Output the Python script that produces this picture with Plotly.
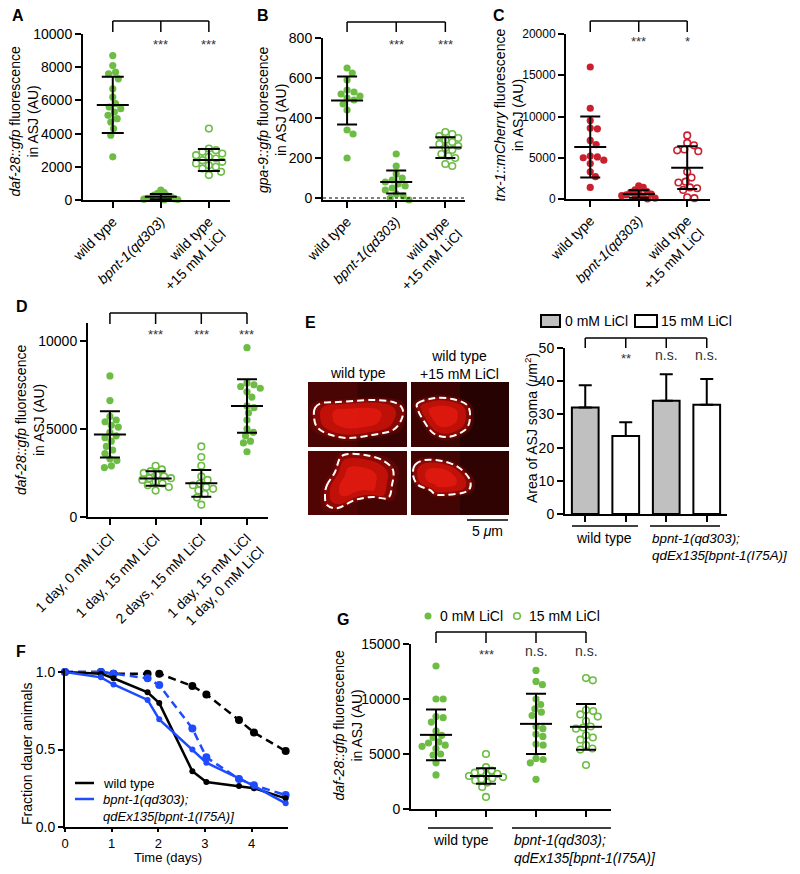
import numpy as np
import plotly.graph_objects as go

# The page body has an 8px default margin; the figure is sized so page == window.
OFF = 8
W, H = 800 - 2 * OFF, 874 - 2 * OFF
FONT = "Liberation Sans, Arial, Helvetica, sans-serif"
GREEN = "#6dbd45"
RED = "#c9202f"
BLUE = "#1f4bff"
BARGRAY = "#c0c0c0"

# ---------------- data ----------------
# Panel A: daf-28::gfp fluorescence
A_labels = ["wild type", "<i>bpnt-1(qd303)</i>", "wild type<br>+15 mM LiCl"]
A_wt = [8700, 8100, 7700, 7600, 7300, 6700, 6200, 5800, 5600, 5500, 5300, 5100, 4900, 4700, 4300, 3900, 2600]
A_bpnt = [600, 450, 400, 300, 250, 200, 150, 120, 100, 80, 50, 30, 0]
A_li = [4300, 3100, 3000, 2900, 2800, 2700, 2600, 2500, 2400, 2300, 2200, 2100, 2000, 1900, 1700, 1500]
A_mean = [5730, 200, 2410]
A_sd = [1690, 160, 660]
A_sig = ["", "***", "***"]

# Panel B: gpa-9::gfp fluorescence
B_labels = A_labels
B_wt = [650, 625, 590, 540, 530, 520, 510, 500, 490, 470, 440, 340, 320, 200]
B_bpnt = [220, 160, 120, 100, 90, 80, 70, 60, 50, 40, 20, 10, 0, -10]
B_li = [330, 320, 310, 300, 290, 280, 270, 260, 250, 240, 220, 210, 200, 170, 160]
B_mean = [487, 80, 252]
B_sd = [120, 58, 52]
B_sig = ["", "***", "***"]

# Panel C: trx-1::mCherry fluorescence
C_labels = A_labels
C_wt = [16000, 11000, 9500, 8600, 8500, 7100, 6600, 5200, 5100, 5000, 4700, 4300, 3300, 2700, 1400]
C_bpnt = [1600, 1400, 1100, 900, 800, 700, 600, 500, 400, 300, 200, 100, 0]
C_li = [7700, 6800, 6500, 6000, 5900, 5800, 3300, 2600, 2100, 2000, 1400, 1300, 1100, 200, 100]
C_mean = [6300, 600, 3800]
C_sd = [3700, 450, 2600]
C_sig = ["", "***", "*"]

# Panel D: daf-28::gfp, LiCl time course
D_labels = ["1 day, 0 mM LiCl", "1 day, 15 mM LiCl", "2 days, 15 mM LiCl",
            "1 day, 15 mM LiCl<br>1 day, 0 mM LiCl"]
D_g1 = [8000, 6600, 5700, 5500, 5400, 5200, 5100, 4800, 4600, 4500, 4300, 4000, 3800, 3600, 3300, 3200, 2900, 2800]
D_g2 = [2900, 2700, 2600, 2500, 2400, 2300, 2200, 2200, 2100, 2000, 1900, 1800, 1700, 1500]
D_g3 = [4000, 3400, 2900, 2300, 2100, 1900, 1800, 1700, 1600, 1500, 1300, 1100, 700]
D_g4 = [9600, 7600, 7500, 7400, 7300, 7100, 6800, 6300, 6200, 5900, 5500, 5000, 4800, 4600, 4300, 4200, 3700]
D_mean = [4680, 2180, 1910, 6290]
D_sd = [1310, 410, 760, 1520]
D_sig = ["", "***", "***", "***"]

# Panel E: area of ASJ soma
E_mean = [32.1, 23.5, 34.1, 32.9]
E_sd = [6.7, 4.1, 8.0, 7.8]
E_sig = ["", "**", "n.s.", "n.s."]
E_legend = ["0 mM LiCl", "15 mM LiCl"]
E_groups = ["wild type", "<i>bpnt-1(qd303);<br>qdEx135[bpnt-1(I75A)]</i>"]

# Panel F: fraction dauer animals over time
F_time = [0, 0.77, 1.04, 1.77, 2.02, 2.73, 3.03, 3.73, 4.05, 4.73]
F_wt_0 = [1.0, 0.99, 0.96, 0.87, 0.80, 0.36, 0.29, 0.265, 0.25, 0.185]
F_wt_15 = [1.0, 1.0, 0.99, 0.99, 0.99, 0.91, 0.856, 0.69, 0.61, 0.49]
F_bp_0 = [1.0, 0.966, 0.92, 0.82, 0.695, 0.50, 0.415, 0.314, 0.265, 0.153]
F_bp_15 = [1.0, 1.0, 0.99, 0.96, 0.916, 0.636, 0.45, 0.31, 0.27, 0.206]
F_legend = ["wild type", "<i>bpnt-1(qd303);<br>qdEx135[bpnt-1(I75A)]</i>"]

# Panel G: daf-28::gfp in rescue line
G_wt0 = [13000, 10000, 10000, 8400, 8300, 7900, 7100, 6700, 6500, 6100, 6000, 5800, 5700, 5500, 5000, 4900, 4200, 3100]
G_wt15 = [5000, 3800, 3500, 3400, 3300, 3200, 3100, 3000, 2900, 2800, 2700, 2600, 2400, 2000, 1100]
G_bp0 = [12600, 11600, 11300, 10000, 9500, 9100, 8800, 8500, 7500, 7300, 6800, 6600, 5900, 5800, 4600, 4500, 4200, 2700]
G_bp15 = [11900, 11700, 9000, 8900, 8600, 8400, 8000, 7500, 7400, 7300, 6700, 6500, 6300, 5800, 5500, 5400, 4000]
G_mean = [6740, 3000, 7740, 7470]
G_sd = [2310, 710, 2735, 2080]
G_sig = ["", "***", "n.s.", "n.s."]

# ---------------- layout geometry (window pixels) ----------------
P = {
    "A": dict(s="", x0=83, x1=230, yb=200, yt=34, xr=[-0.62, 2.44], yr=[0, 10000], dt=2000),
    "B": dict(s="2", x0=323, x1=465, yb=200, yt=38, xr=[-0.49, 2.4], yr=[-10, 800], dt=200),
    "C": dict(s="3", x0=566, x1=710, yb=199, yt=34, xr=[-0.5, 2.47], yr=[0, 20000], dt=5000),
    "D": dict(s="4", x0=88, x1=268, yb=517, yt=323, xr=[-0.48, 3.46], yr=[0, 11000], dt=5000),
    "E": dict(s="5", x0=565, x1=727, yb=514, yt=348, xr=[-0.5, 3.5], yr=[0, 50], dt=10),
    "F": dict(s="6", x0=65, x1=288, yb=827, yt=669, xr=[0, 4.78], yr=[0, 1.02], dt=0.5),
    "G": dict(s="7", x0=411, x1=611, yb=809, yt=644, xr=[-0.5, 3.5], yr=[0, 15000], dt=5000),
}


def px(x):
    return (x - OFF) / W


def py(y):
    return 1 - (y - OFF) / H


def scales(c):
    xs = (c["x1"] - c["x0"]) / (c["xr"][1] - c["xr"][0])
    ys = (c["yb"] - c["yt"]) / (c["yr"][1] - c["yr"][0])
    return xs, ys


def swarm(vals, xs, ys, d=7.2, limit=17.0):
    vals = np.asarray(vals, float)
    order = np.argsort(-vals, kind="stable")
    placed = []
    out = np.zeros(len(vals))
    for i in order:
        y = vals[i] * ys
        cands = [0.0]
        for (qx, qy) in placed:
            dy = abs(qy - y)
            if dy < d:
                dx = np.sqrt(d * d - dy * dy)
                cands += [qx + dx, qx - dx]
        cands.sort(key=lambda c: (round(abs(c), 6), -c))
        chosen = 0.0
        for cnd in cands:
            if all((cnd - qx) ** 2 + (y - qy) ** 2 >= d * d - 1e-6 for qx, qy in placed):
                chosen = cnd
                break
        placed.append((chosen, y))
        out[i] = chosen
    m = np.abs(out).max()
    if m > limit:
        out = out * limit / m
    return out / xs


fig = go.Figure()
layout = dict(width=W, height=H, autosize=False,
              margin=dict(l=0, r=0, t=0, b=0, pad=0, autoexpand=False),
              paper_bgcolor="white", plot_bgcolor="white", showlegend=False,
              font=dict(family=FONT, size=14, color="black"))
shapes = []
annots = []

common = dict(showline=True, linewidth=2, linecolor="black", ticks="outside", ticklen=6,
              tickwidth=2, tickcolor="black", showgrid=False, zeroline=False, automargin=False,
              tickfont=dict(size=14, color="black", family=FONT), fixedrange=True)

for key, c in P.items():
    s = c["s"]
    layout["xaxis" + s] = dict(domain=[px(c["x0"]), px(c["x1"])], range=c["xr"], anchor="y" + s, **common)
    layout["yaxis" + s] = dict(domain=[py(c["yb"]), py(c["yt"])], range=c["yr"], anchor="x" + s,
                               dtick=c["dt"], tick0=0, tickformat="d", **common)

layout["yaxis3"]["tickfont"] = dict(size=12, color="black", family=FONT)
layout["yaxis6"]["tickformat"] = ".1f"
layout["xaxis6"]["ticklen"] = 3
layout["xaxis6"]["tickfont"] = dict(size=13, color="black", family=FONT)
layout["yaxis6"]["ticklen"] = 5


def text(x, y, t, size=14, xanchor="center", yanchor="middle", angle=0, color="black", align="center"):
    annots.append(dict(xref="paper", yref="paper", x=px(x), y=py(y), text=t, showarrow=False,
                       xanchor=xanchor, yanchor=yanchor, textangle=angle, align=align,
                       font=dict(size=size, color=color, family=FONT)))


def line(x0, y0, x1, y1, color="black", width=1.5, dash="solid"):
    shapes.append(dict(type="line", xref="paper", yref="paper", x0=px(x0), y0=py(y0),
                       x1=px(x1), y1=py(y1), line=dict(color=color, width=width, dash=dash)))


def bracket(key, cats, ytop, ybot, sig, ysig):
    c = P[key]
    xs, _ = scales(c)
    xpos = [c["x0"] + (k - c["xr"][0]) * xs for k in cats]
    line(xpos[0], ytop, xpos[-1], ytop)
    for xp, sg in zip(xpos, sig):
        line(xp, ytop, xp, ybot)
        if sg:
            if "*" in sg:
                text(xp, ysig + 3, sg, size=13, color="#333333")
            else:
                text(xp, ysig, sg, size=14, color="#333333")


def dot_panel(key, groups, means, sds, labels, cap=10):
    c = P[key]
    s = c["s"]
    xs, ys = scales(c)
    for k, (vals, filled, col) in enumerate(groups):
        off = swarm(vals, xs, ys)
        mk = dict(size=7.2, color=col, line=dict(width=0)) if filled else \
            dict(size=6.6, color=col, symbol="circle-open", line=dict(width=1.6, color=col))
        fig.add_trace(go.Scatter(x=k + off, y=vals, mode="markers", marker=mk, cliponaxis=False,
                                 xaxis="x" + s, yaxis="y" + s, hoverinfo="skip"))
    cats = list(range(len(means)))
    hw = 16 / xs
    mx, my = [], []
    for k, m in zip(cats, means):
        mx += [k - hw, k + hw, None]
        my += [m, m, None]
    fig.add_trace(go.Scatter(x=mx, y=my, mode="lines", line=dict(color="black", width=2),
                             cliponaxis=False, xaxis="x" + s, yaxis="y" + s, hoverinfo="skip"))
    fig.add_trace(go.Scatter(x=cats, y=means, mode="markers", marker=dict(size=1, opacity=0),
                             error_y=dict(type="data", array=sds, color="black", thickness=2, width=cap),
                             cliponaxis=False, xaxis="x" + s, yaxis="y" + s, hoverinfo="skip"))
    ax = layout["xaxis" + s]
    ax["tickvals"] = cats
    if labels is not None:
        ax["ticktext"] = labels
        ax["tickangle"] = -45
    else:
        ax["showticklabels"] = False


# ---- Panel A ----
dot_panel("A", [(A_wt, True, GREEN), (A_bpnt, True, GREEN), (A_li, False, GREEN)], A_mean, A_sd, A_labels, cap=11)
bracket("A", [0, 1, 2], 21, 32, A_sig, 41)
text(23.5, 122, "<i>daf-28::gfp</i> fluorescence<br>in ASJ (AU)", angle=-90)
text(18, 15, "<b>A</b>", size=16)

# ---- Panel B ----
dot_panel("B", [(B_wt, True, GREEN), (B_bpnt, True, GREEN), (B_li, False, GREEN)], B_mean, B_sd, B_labels)
bracket("B", [0, 1, 2], 22, 32, B_sig, 41)
text(272, 120, "<i>gpa-9::gfp</i> fluorescence<br>in ASJ (AU)", angle=-90)
text(263, 15, "<b>B</b>", size=16)
shapes.append(dict(type="line", xref="x2 domain", yref="y2", x0=0, x1=1, y0=0, y1=0,
                   line=dict(color="black", width=1.2, dash="dot")))

# ---- Panel C ----
dot_panel("C", [(C_wt, True, RED), (C_bpnt, True, RED), (C_li, False, RED)], C_mean, C_sd, C_labels)
bracket("C", [0, 1, 2], 21, 32, C_sig, 39)
text(508.5, 115, "<i>trx-1::mCherry</i> fluorescence<br>in ASJ (AU)", angle=-90)
text(499, 15, "<b>C</b>", size=16)

# ---- Panel D ----
dot_panel("D", [(D_g1, True, GREEN), (D_g2, False, GREEN), (D_g3, False, GREEN), (D_g4, True, GREEN)],
          D_mean, D_sd, D_labels)
bracket("D", [0, 1, 2, 3], 313, 324, D_sig, 332)
text(30, 420, "<i>daf-28::gfp</i> fluorescence<br>in ASJ (AU)", angle=-90)
text(22, 306, "<b>D</b>", size=16)

# ---- Panel E (micrographs, decorative) ----
def smooth(pts):
    p = np.array(pts, float)
    n = len(p)
    d = "M %.5f,%.5f" % (px(p[0][0]), py(p[0][1]))
    for i in range(n):
        p0, p1, p2, p3 = p[i - 1], p[i], p[(i + 1) % n], p[(i + 2) % n]
        c1 = p1 + (p2 - p0) / 6
        c2 = p2 - (p3 - p1) / 6
        d += " C %.5f,%.5f %.5f,%.5f %.5f,%.5f" % (px(c1[0]), py(c1[1]), px(c2[0]), py(c2[1]),
                                                  px(p2[0]), py(p2[1]))
    return d + " Z"


def scaled(pts, f, box):
    p = np.array(pts, float)
    cen = p.mean(axis=0)
    q = cen + (p - cen) * f
    x0, y0, x1, y1 = box
    q[:, 0] = np.clip(q[:, 0], x0 + 2, x1 - 2)
    q[:, 1] = np.clip(q[:, 1], y0 + 2, y1 - 2)
    return q


images = [
    ((308, 382, 407, 447), "#380303",
     [(315, 408), (322, 403), (338, 402), (372, 400), (393, 402), (402, 408), (402, 418), (393, 430),
      (372, 435), (348, 438), (328, 434), (317, 427), (314, 417)]),
    ((411, 382, 509, 447), "#260202",
     [(418, 403), (435, 398), (452, 399), (467, 405), (470, 418), (465, 430), (448, 437), (433, 433),
      (422, 418), (418, 410)]),
    ((308, 451, 407, 515), "#440404",
     [(327, 485), (335, 472), (340, 458), (348, 454), (365, 455), (382, 460), (393, 470), (392, 485),
      (388, 498), (372, 497), (355, 500), (338, 508), (327, 505), (325, 495)]),
    ((411, 451, 509, 515), "#300303",
     [(415, 465), (425, 460), (442, 461), (458, 467), (469, 478), (470, 488), (462, 493), (438, 495),
      (430, 490), (418, 485), (413, 475)]),
]
for box, bg, outline in images:
    x0, y0, x1, y1 = box
    shapes.append(dict(type="rect", xref="paper", yref="paper", x0=px(x0), x1=px(x1), y0=py(y1), y1=py(y0),
                       fillcolor=bg, line=dict(width=0)))
    shapes.append(dict(type="rect", xref="paper", yref="paper", x0=px(x0), x1=px(x0 + (x1 - x0) * 0.5),
                       y0=py(y1), y1=py(y0), fillcolor="rgba(110,10,5,0.3)", line=dict(width=0)))
    for f, col in [(1.15, "rgba(120,8,4,0.45)"), (1.03, "rgba(170,12,6,0.6)"),
                   (0.85, "rgba(215,20,10,0.7)"), (0.55, "rgba(240,30,18,0.6)")]:
        shapes.append(dict(type="path", path=smooth(scaled(outline, f, box)), xref="paper", yref="paper",
                           fillcolor=col, line=dict(width=0)))
    shapes.append(dict(type="path", path=smooth(outline), xref="paper", yref="paper",
                       fillcolor="rgba(0,0,0,0)", line=dict(color="white", width=2, dash="7px,4px")))

text(358, 373, "wild type")
text(459, 364.5, "wild type<br>+15 mM LiCl")
line(467, 520, 508, 520, width=1.5)
text(487, 531, "5 <i>μ</i>m")
text(310, 323, "<b>E</b>", size=16)

# ---- Panel E bar chart ----
fig.add_trace(go.Bar(x=[0, 1, 2, 3], y=E_mean, width=0.66,
                     marker=dict(color=[BARGRAY, "white", BARGRAY, "white"], line=dict(color="black", width=2)),
                     error_y=dict(type="data", symmetric=False, array=E_sd, arrayminus=[0, 0, 0, 0],
                                  color="black", thickness=2, width=6.5),
                     xaxis="x5", yaxis="y5", hoverinfo="skip"))
layout["xaxis5"]["tickvals"] = [0, 1, 2, 3]
layout["xaxis5"]["showticklabels"] = False
bracket("E", [0, 1, 2, 3], 338, 348, E_sig, 355)
text(531, 428, "Area of ASJ soma (<i>μ</i>m<sup>2</sup>)", angle=-90)
# legend
shapes.append(dict(type="rect", xref="paper", yref="paper", x0=px(541), x1=px(560), y0=py(327), y1=py(315),
                   fillcolor=BARGRAY, line=dict(color="black", width=2)))
shapes.append(dict(type="rect", xref="paper", yref="paper", x0=px(635), x1=px(657), y0=py(327), y1=py(315),
                   fillcolor="white", line=dict(color="black", width=2)))
text(563, 321, E_legend[0], xanchor="left")
text(659, 321, E_legend[1], xanchor="left")
# group labels
line(572, 526, 638, 526)
line(650, 526, 720, 526)
text(604, 538, E_groups[0])
text(650, 547, E_groups[1], xanchor="left", align="left", size=13.4)

# ---- Panel F ----
for ys_, col, dash, msz in [(F_wt_15, "black", "8px,5px", 8), (F_bp_15, BLUE, "8px,5px", 8),
                            (F_wt_0, "black", "solid", 6), (F_bp_0, BLUE, "solid", 6)]:
    fig.add_trace(go.Scatter(x=F_time, y=ys_, mode="lines+markers",
                             line=dict(color=col, width=2.5, dash=dash),
                             marker=dict(color=col, size=msz), cliponaxis=False,
                             xaxis="x6", yaxis="y6", hoverinfo="skip"))
layout["xaxis6"]["tickvals"] = [0, 1, 2, 3, 4]
layout["yaxis6"]["tickvals"] = [0, 0.5, 1.0]
text(168, 857, "Time (days)", size=13)
text(27, 754, "Fraction dauer animals", angle=-90)
text(21, 651, "<b>F</b>", size=16)
line(75, 783, 94, 783, color="black", width=2.5)
line(75, 799, 94, 799, color=BLUE, width=2.5)
text(101, 783, F_legend[0], xanchor="left", size=13)
text(101, 808, F_legend[1], xanchor="left", size=13, align="left")

# ---- Panel G ----
dot_panel("G", [(G_wt0, True, GREEN), (G_wt15, False, GREEN), (G_bp0, True, GREEN), (G_bp15, False, GREEN)],
          G_mean, G_sd, None)
bracket("G", [0, 1, 2, 3], 632, 643, G_sig, 651)
text(347.5, 726, "<i>daf-28::gfp</i> fluorescence<br>in ASJ (AU)", angle=-90)
text(343, 619, "<b>G</b>", size=16)
shapes.append(dict(type="circle", xref="paper", yref="paper", x0=px(424.5), x1=px(431.5), y0=py(619.5),
                   y1=py(612.5), fillcolor=GREEN, line=dict(width=0)))
shapes.append(dict(type="circle", xref="paper", yref="paper", x0=px(513.7), x1=px(520.3), y0=py(619.3),
                   y1=py(612.7), fillcolor="white", line=dict(color=GREEN, width=1.6)))
text(438, 616, E_legend[0], xanchor="left")
text(527, 616, E_legend[1], xanchor="left")
line(428, 828, 493, 828)
line(512, 828, 611, 828)
text(461, 840, E_groups[0])
text(512, 849, E_groups[1], xanchor="left", align="left")

layout["shapes"] = shapes
layout["annotations"] = annots
fig.update_layout(**layout)
fig.write_html("out.html")
